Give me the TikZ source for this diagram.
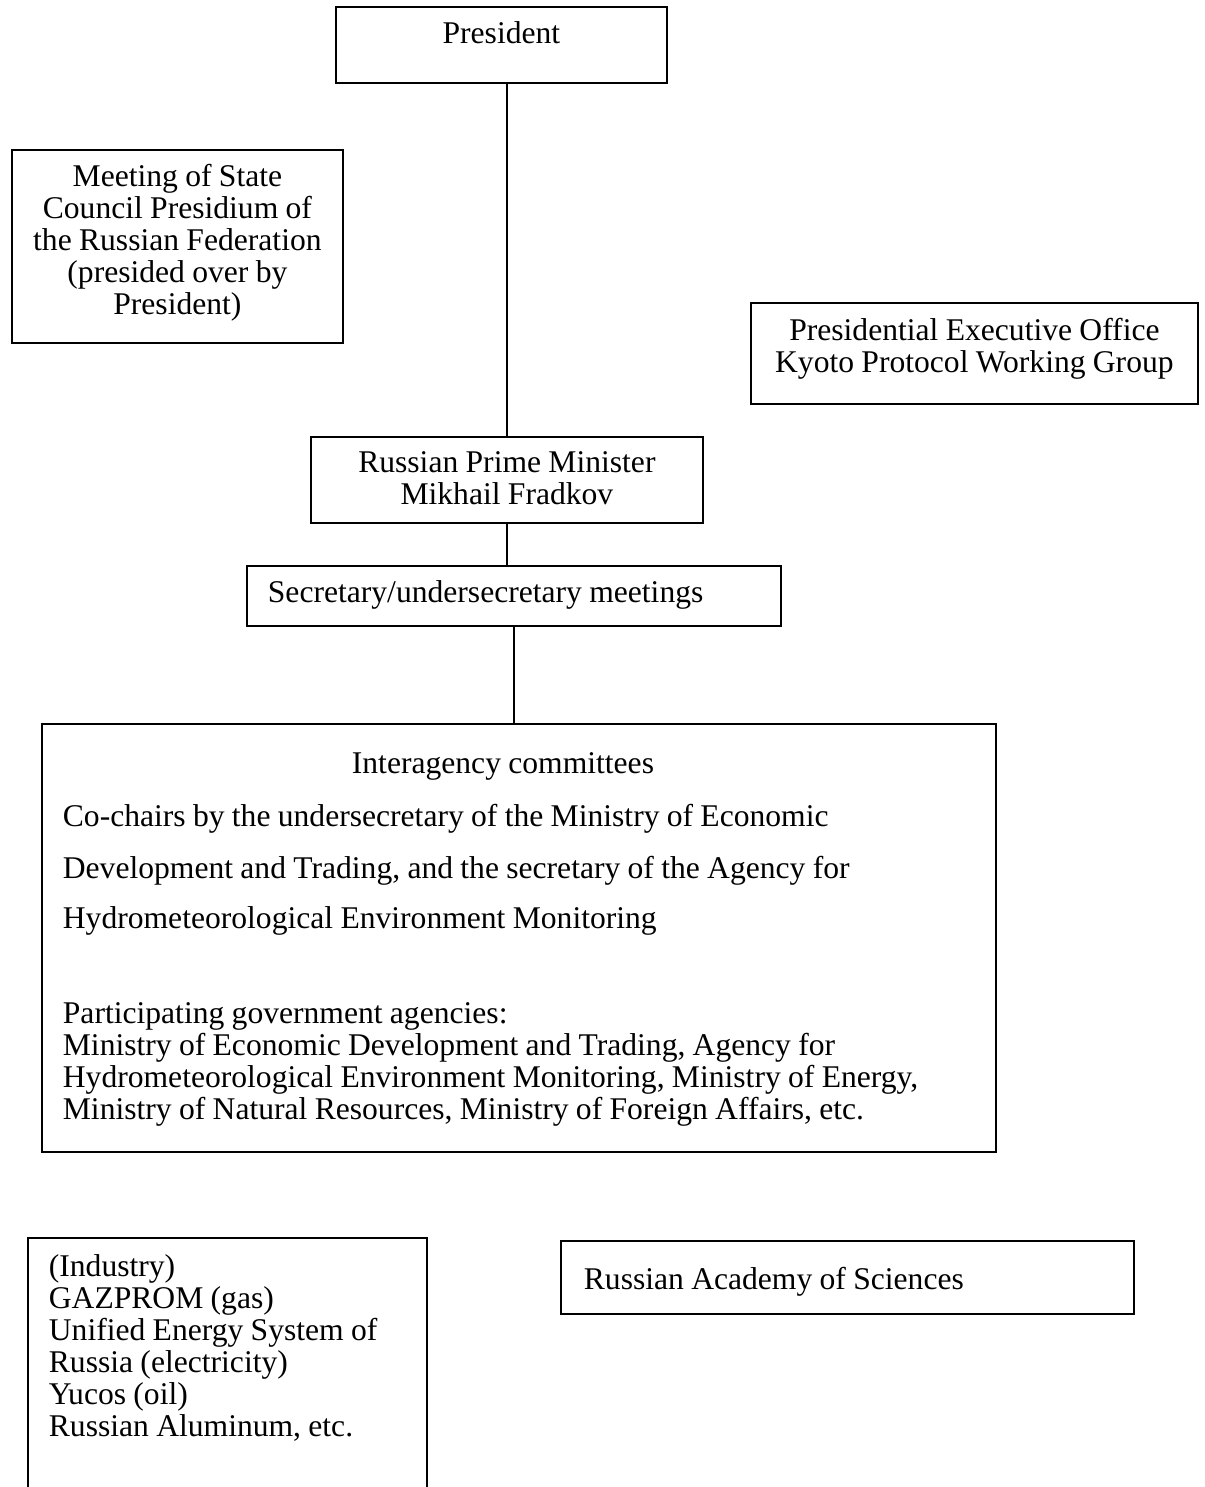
\documentclass[tikz,border=0pt]{standalone}
\usepackage{fontspec}
\setmainfont{Liberation Serif}

\begin{document}
\begin{tikzpicture}[x=0.5pt, y=-0.5pt,
    box/.style={draw, line width=0.9pt, inner ysep=0pt, anchor=north west,
        font=\fontsize{15.8}{16}\selectfont, execute at begin node={\spaceskip=3.65pt\relax}}]
            \useasboundingbox (0,0) rectangle (1204,1487);

            \node[box, inner xsep=0pt, text width=165.5pt, align=center, text height=18.5pt, text depth=19.5pt] (pres) at (335,6) {President};
            \node[box, inner xsep=0pt, text width=165.5pt, align=center, text height=18.5pt, text depth=78pt] (meet) at (11,149)
                {Meeting of State\\Council Presidium of\\the Russian Federation\\(presided over by\\President)};
            \node[box, inner xsep=0pt, text width=223.5pt, align=center, text height=19pt, text depth=31.5pt] (kyoto) at (750,302)
                {Presidential Executive Office\\Kyoto Protocol Working Group};
            \node[box, inner xsep=0pt, text width=196pt, align=center, text height=18pt, text depth=25pt] (pm) at (310,436)
                {Russian Prime Minister\\Mikhail Fradkov};
            \node[box, inner xsep=10.5pt, text width=246pt, align=left, text height=18.5pt, text depth=11.5pt] (sec) at (246,565)
                {Secretary/undersecretary meetings};

            \node[box, inner xsep=10.5pt, text width=456pt, align=left, text height=25pt, text depth=189pt] (inter) at (41,723)
                {\hspace*{144.5pt}Interagency committees\\[10.5pt]
                 Co-chairs by the undersecretary of the Ministry of Economic\\[10pt]
                 Development and Trading, and the secretary of the Agency for\\[9pt]
                 Hydrometeorological Environment Monitoring\\[31.5pt]
                 Participating government agencies:\\
                 Ministry of Economic Development and Trading, Agency for\\
                 Hydrometeorological Environment Monitoring, Ministry of Energy,\\
                 Ministry of Natural Resources, Ministry of Foreign Affairs, etc.};

            \node[box, inner xsep=10.5pt, text width=178.5pt, align=left, text height=19.5pt, text depth=115pt] (ind) at (27,1237)
                {(Industry)\\GAZPROM (gas)\\Unified Energy System of\\Russia (electricity)\\Yucos (oil)\\Russian Aluminum, etc.};
            \node[box, inner xsep=11.5pt, text width=263.5pt, align=left, text height=24.5pt, text depth=12pt] (acad) at (560,1240)
                {Russian Academy of Sciences};

            \draw[line width=0.9pt] (pm.north) -- (pm.north |- pres.south);
            \draw[line width=0.9pt] (pm.south) -- (pm.south |- sec.north);
            \draw[line width=0.9pt] (sec.south) -- (sec.south |- inter.north);
        \end{tikzpicture}
\end{document}
